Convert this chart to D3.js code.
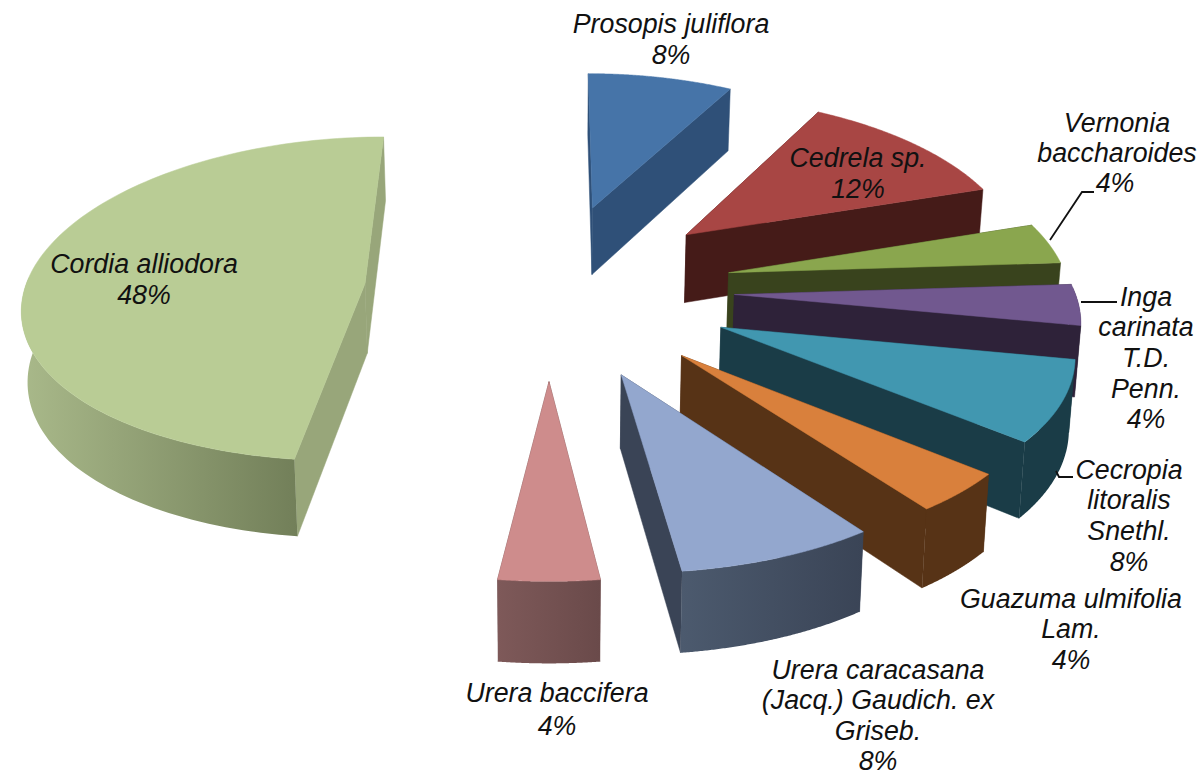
<!DOCTYPE html>
<html><head><meta charset="utf-8">
<script src="https://cdn.jsdelivr.net/npm/d3@7/dist/d3.min.js"></script>
<style>html,body{margin:0;background:#fff}svg{display:block}
text{font-family:"Liberation Sans",Arial,sans-serif;font-style:italic;font-size:26.8px;fill:#111;text-anchor:middle}</style>
</head><body><div id="c"></div>
<script>
// ---- data ----
const categories = ["Prosopis juliflora","Cedrela sp.","Vernonia baccharoides","Inga carinata T.D. Penn.","Cecropia litoralis Snethl.","Guazuma ulmifolia Lam.","Urera caracasana (Jacq.) Gaudich. ex Griseb.","Urera baccifera","Cordia alliodora"];
const values = [8,12,4,4,8,4,8,4,48];
const labelLines = [["Prosopis juliflora"],["Cedrela sp."],["Vernonia","baccharoides"],["Inga","carinata","T.D.","Penn."],["Cecropia","litoralis","Snethl."],["Guazuma ulmifolia","Lam."],["Urera caracasana","(Jacq.) Gaudich. ex","Griseb."],["Urera baccifera"],["Cordia alliodora"]];
const topColors  = ["#4674a8","#a84644","#8aa64e","#71588f","#4197b0","#d9803c","#93a7ce","#ce8c8c","#b9cc95"];
const wallColors = ["#2f5078","#451b18","#39431d","#2e2239","#1a3c47","#573316","#3a4456","#6b4a4a","#98a67a"];
const outerA     = ["#2f5078","#451b18","#39431d","#2e2239","#1a3c47","#573316","#4c5a6e","#7e5959","#a9b98a"];
const outerB     = ["#2f5078","#451b18","#39431d","#2e2239","#1a3c47","#573316","#3a4456","#6a4a4a","#727f59"];
// label placement: centre x, first-line centre y, line step
const labelAt = [[671,23,31],[858,157,31],[1117,122,30],[1146,296,30.7],[1129,469,30.7],[1071,598,30.5],[878,669,30.5],[557,692,33],[144,263,31]];

const W=1203,H=776, cx=549, cy=289, R=340, explode=185, depth=70, tilt=0.475, perspX=0.00033, perspY=0.00028, lean=0.00017;
const svg=d3.select("#c").append("svg").attr("width",W).attr("height",H);
const defs=svg.append("defs");

const scaleX=d3.scaleLinear().domain([0,1]).range([0,1]);
const proj=(X,Y,z)=>{
  const sx=1/(1+Y*perspX), sy=1/(1+Y*perspY);
  return [cx+scaleX(X)*sx*(1-z*lean), cy-Y*tilt*sy+z*sy];
};
const line=d3.line();
const pie=d3.pie().sort(null);
const arcs=pie(values);

arcs.forEach((a,i)=>{
  const mid=(a.startAngle+a.endAngle)/2;
  const ox=explode*Math.sin(mid), oy=explode*Math.cos(mid);
  const apex=z=>proj(ox,oy,z);
  const rim=(t,z)=>proj(ox+R*Math.sin(t),oy+R*Math.cos(t),z);
  const ts=d3.range(0,121).map(k=>a.startAngle+(a.endAngle-a.startAngle)*k/120);
  const g=svg.append("g").attr("class","slice");
  const gid="o"+i;
  const grad=defs.append("linearGradient").attr("id",gid);
  grad.append("stop").attr("offset",0).attr("stop-color",outerA[i]);
  grad.append("stop").attr("offset",1).attr("stop-color",outerB[i]);
  // radial walls, far one first
  const walls=[a.startAngle,a.endAngle].sort((p,q)=>Math.cos(q)-Math.cos(p));
  walls.forEach(t=>{
    g.append("path").attr("fill",wallColors[i]).attr("stroke",wallColors[i]).attr("stroke-width",.5)
     .attr("d",line([apex(0),rim(t,0),rim(t,depth),apex(depth)])+"Z");
  });
  // outer wall, only the part that faces the viewer
  const vis=ts.filter(t=>Math.cos(t)<0.05);
  if(vis.length>1){
    const outer=vis.map(t=>rim(t,0)).concat(vis.slice().reverse().map(t=>rim(t,depth)));
    g.append("path").attr("fill",`url(#${gid})`).attr("d",line(outer)+"Z");
  }
  // top face
  g.append("path").attr("fill",topColors[i]).attr("stroke",topColors[i]).attr("stroke-width",.5)
   .attr("d",line([apex(0)].concat(ts.map(t=>rim(t,0))))+"Z");
});

// leader lines
const leaders=[[[1094,192],[1082,192],[1050,240]],[[1081,302],[1117,302]],[[1056,471],[1059,477],[1073,477]]];
svg.selectAll("path.leader").data(leaders).join("path").attr("class","leader")
  .attr("fill","none").attr("stroke","#111").attr("stroke-width",1.8).attr("d",d=>line(d));

// labels
const total=d3.sum(values);
labelLines.forEach((ls,i)=>{
  const [x,y,step]=labelAt[i];
  const all=ls.concat([d3.format(".0%")(values[i]/total)]);
  all.forEach((t,k)=>{
    svg.append("text").attr("x",x-(i===2&&k===2?2:0)).attr("y",y+k*step).attr("dy","0.36em").text(t);
  });
});
</script></body></html>
